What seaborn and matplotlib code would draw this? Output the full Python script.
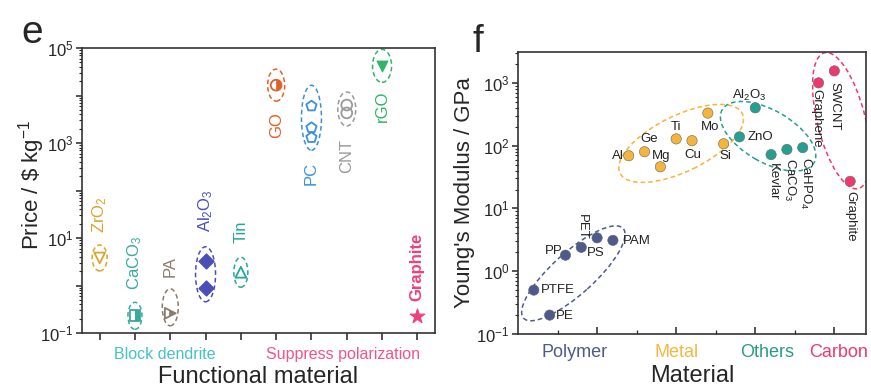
import numpy as np
import pandas as pd
import matplotlib
matplotlib.use("Agg")
import matplotlib.pyplot as plt
import matplotlib.transforms as mtransforms
from matplotlib.patches import Ellipse
from matplotlib.markers import MarkerStyle
from matplotlib import ticker
import seaborn as sns

# ---------------- Panel e data ----------------
e_materials = ["ZrO$_2$", "CaCO$_3$", "PA", "Al$_2$O$_3$", "Tin",
               "GO", "PC", "CNT", "rGO", "Graphite"]
e_positions = [1, 2, 3, 4, 5, 6, 7, 8, 9, 10]
e_prices = [[3.8], [0.23], [0.26], [3.3, 0.9], [1.9],
            [16500], [6000, 2100, 1300], [6300, 4300], [42000], [0.23]]
e_groups = ["Block dendrite", "Suppress polarization"]
e_group_positions = [2.85, 7.9]

# ---------------- Panel f data ----------------
f_materials = ["PTFE", "PE", "PP", "PS", "PET", "PAM",
               "Al", "Ge", "Mg", "Ti", "Cu", "Mo", "Si",
               "ZnO", "Al$_2$O$_3$", "Kevlar", "CaCO$_3$", "CaHPO$_4$",
               "Graphene", "SWCNT", "Graphite"]
f_positions = [0.2, 0.4, 0.6, 0.8, 1.0, 1.2,
               1.4, 1.6, 1.8, 2.0, 2.2, 2.4, 2.6,
               2.8, 3.0, 3.2, 3.4, 3.6,
               3.8, 4.0, 4.2]
f_modulus = [0.5, 0.2, 1.8, 2.4, 3.4, 3.1,
             69, 80, 46, 128, 120, 330, 107,
             138, 400, 72, 87, 93,
             1000, 1550, 27]
f_class = ["Polymer"] * 6 + ["Metal"] * 7 + ["Others"] * 5 + ["Carbon"] * 3
f_classes = ["Polymer", "Metal", "Others", "Carbon"]
f_class_positions = [0.72, 2.0, 3.15, 4.05]

# ---------------- styles ----------------
e_colors = ["#d9a52c", "#3aa99f", "#8c7b6e", "#4a4fb5", "#22a99b",
            "#e0612b", "#3b8fe0", "#9a9a9a", "#30b465", "#f0407c"]
e_markers = ["v", "s", ">", "D", "^", "o", "p", "o", "v", "*"]
e_fill = ["none", "half", "half", "full", "none", "half", "none", "none", "full", "full"]
e_ell = [(15, 26), (14, 27), (16, 37), (20, 55), (14, 30),
         (17, 32), (20, 65), (18, 34), (19, 33), None]
e_ell_dy = [0, 0, -6, 0, 0, 0, -6, 0, 0, 0]
e_label_dy = [-43, -53, -47, -50, -41, 40, 36, 43, 40, -49]
e_group_colors = ["#45c2c2", "#f0548c"]

f_class_colors = {"Polymer": "#4d5b8c", "Metal": "#f5b43a",
                  "Others": "#25a090", "Carbon": "#ec3a6e"}
f_text_colors = ["#4d5b8c", "#f5b840", "#2a9a88", "#ec3a6e"]
# label offsets in pixels (dx, dy image-down), rotation, ha, va
f_label_style = [
    (7, 0, 0, "left", "center"), (6, 1, 0, "left", "center"),
    (-3, -4, 0, "right", "center"), (6, 6, 0, "left", "center"),
    (-15, -11, -90, "center", "center"), (10, 1, 0, "left", "center"),
    (-5, 0, 0, "right", "center"), (5, -13, 0, "center", "center"),
    (1, -11, 0, "center", "center"), (0, -12, 0, "center", "center"),
    (1, 14, 0, "center", "center"), (2, 14, 0, "center", "center"),
    (2, 12, 0, "center", "center"), (8, 0, 0, "left", "center"),
    (-6, -12, 0, "center", "center"), (2, 8, -90, "center", "top"),
    (3, 9, -90, "center", "top"), (3, 9, -90, "center", "top"),
    (-2, 6, -90, "center", "top"), (0, 11, -90, "center", "top"),
    (0, 10, -90, "center", "top"),
]
# ellipse per class: width px, height px, angle, dx, dy (image px)
f_ell = {"Polymer": (134, 42, 42, 0, 9), "Metal": (136, 56, 26, 5, -1),
         "Others": (106, 52, -30, -3, -3), "Carbon": (140, 48, 104, 7, 9)}

sns.set_style("ticks")
plt.rcParams["font.family"] = ["Liberation Sans", "DejaVu Sans"]
plt.rcParams["mathtext.default"] = "regular"
plt.rcParams["axes.edgecolor"] = "#333333"
plt.rcParams["axes.linewidth"] = 1.2

DPI = 100
fig = plt.figure(figsize=(8.71, 3.90), dpi=DPI)
ax_e = fig.add_axes([82 / 871, (390 - 333) / 390, 353 / 871, 285 / 390])
ax_f = fig.add_axes([518 / 871, (390 - 334) / 390, 348 / 871, 282 / 390])


def dashed_ellipse(ax, x, y, w, h, angle, color, dx=0, dy=0):
    trans = fig.dpi_scale_trans + mtransforms.ScaledTranslation(x, y, ax.transData) \
        + mtransforms.Affine2D().translate(dx * fig.dpi / DPI, -dy * fig.dpi / DPI)
    ell = Ellipse((0, 0), w / DPI, h / DPI, angle=angle, transform=trans,
                  fill=False, edgecolor=color, linewidth=1.1, linestyle=(0, (3, 2)))
    ax.add_patch(ell)


# ================= Panel e =================
ax_e.set_yscale("log")
ax_e.set_xlim(0.5, 10.5)
ax_e.set_ylim(0.1, 1e5)
for i, (name, pos, vals) in enumerate(zip(e_materials, e_positions, e_prices)):
    df = pd.DataFrame({"x": [pos] * len(vals), "y": vals})
    c = e_colors[i]
    m = e_markers[i]
    size = 120 if m == "*" else 60
    if e_fill[i] == "none":
        sns.scatterplot(data=df, x="x", y="y", ax=ax_e, marker=m, s=size,
                        color=c, facecolors="none", edgecolor=c, linewidth=1.3, zorder=3)
    elif e_fill[i] == "half":
        sns.scatterplot(data=df, x="x", y="y", ax=ax_e, marker=MarkerStyle(m, fillstyle="right"),
                        s=size, color=c, edgecolor="none", linewidth=0, zorder=3)
        sns.scatterplot(data=df, x="x", y="y", ax=ax_e, marker=m, s=size,
                        color=c, facecolors="none", edgecolor=c, linewidth=1.3, zorder=4)
    else:
        sns.scatterplot(data=df, x="x", y="y", ax=ax_e, marker=m, s=size,
                        color=c, edgecolor=c, linewidth=0.8, zorder=3)
    if e_ell[i] is not None:
        ymid = 10 ** np.mean(np.log10(vals))
        dashed_ellipse(ax_e, pos, ymid, e_ell[i][0], e_ell[i][1], 0, c, 0, e_ell_dy[i])
    dy = e_label_dy[i]
    ref = max(vals) if dy < 0 else min(vals)
    ax_e.annotate(name, xy=(pos, ref), xytext=(0, -dy), textcoords="offset pixels",
                  rotation=90, ha="center", va="center", color=c, fontsize=12,
                  fontweight="bold" if name == "Graphite" else "normal")

ax_e.set_xticks(e_positions)
ax_e.set_xticklabels([])
ax_e.tick_params(axis="x", which="major", direction="out", length=5, width=1.2, color="#333333")
ax_e.yaxis.set_major_locator(ticker.LogLocator(base=10, numticks=20))
ax_e.yaxis.set_minor_locator(ticker.LogLocator(base=10, subs=np.arange(2, 10), numticks=100))
ax_e.yaxis.set_major_formatter(ticker.FuncFormatter(
    lambda v, p: r"$10^{%d}$" % round(np.log10(v)) if round(np.log10(v)) % 2 != 0 else ""))
ax_e.yaxis.set_minor_formatter(ticker.NullFormatter())
ax_e.tick_params(axis="y", which="major", direction="out", length=4, width=1.1, labelsize=12, pad=2)
ax_e.tick_params(axis="y", which="minor", direction="out", length=2, width=0.8)
ax_e.set_xlabel("Functional material", fontsize=17)
ax_e.xaxis.set_label_coords(0.5, -0.115)
ax_e.set_ylabel("Price / \\$ kg$^{-1}$", fontsize=16)
ax_e.yaxis.set_label_coords(-0.10, 0.52)
for g, gp, gc in zip(e_groups, e_group_positions, e_group_colors):
    ax_e.text(gp, -0.074, g, transform=ax_e.get_xaxis_transform(), ha="center", va="center",
              color=gc, fontsize=11.5)
fig.text(32 / 871, 1 - 43 / 390, "e", fontsize=28, ha="center", va="baseline")

# ================= Panel f =================
ax_f.set_yscale("log")
ax_f.set_xlim(0, 4.4)
ax_f.set_ylim(0.1, 3100)
df_f = pd.DataFrame({"x": f_positions, "y": f_modulus, "cls": f_class, "name": f_materials})
sns.scatterplot(data=df_f, x="x", y="y", hue="cls", palette=f_class_colors, hue_order=f_classes,
                s=55, edgecolor="#666666", linewidth=0.4, legend=False, ax=ax_f, zorder=3)
for i, row in df_f.iterrows():
    dx, dy, rot, ha, va = f_label_style[i]
    ax_f.annotate(row["name"], xy=(row["x"], row["y"]), xytext=(dx, -dy),
                  textcoords="offset pixels", rotation=rot, ha=ha, va=va,
                  fontsize=9.5, color="#222222")
for cls in f_classes:
    sub = df_f[df_f["cls"] == cls]
    w, h, ang, dx, dy = f_ell[cls]
    dashed_ellipse(ax_f, sub["x"].mean(), 10 ** np.log10(sub["y"]).mean(), w, h, ang,
                   f_class_colors[cls], dx, dy)

ax_f.set_xticks([1, 2, 3, 4])
ax_f.set_xticks([0.5, 1.5, 2.5, 3.5], minor=True)
ax_f.set_xticklabels([])
ax_f.tick_params(axis="x", which="major", direction="in", length=5, width=1.1)
ax_f.tick_params(axis="x", which="minor", direction="in", length=3, width=0.9)
ax_f.yaxis.set_major_locator(ticker.LogLocator(base=10, numticks=20))
ax_f.yaxis.set_minor_locator(ticker.LogLocator(base=10, subs=np.arange(2, 10), numticks=100))
ax_f.yaxis.set_major_formatter(ticker.LogFormatterSciNotation())
ax_f.yaxis.set_minor_formatter(ticker.NullFormatter())
ax_f.tick_params(axis="y", which="major", direction="out", length=4, width=1.1, labelsize=12, pad=2)
ax_f.tick_params(axis="y", which="minor", direction="out", length=2, width=0.8)
ax_f.set_xlabel("Material", fontsize=17)
ax_f.xaxis.set_label_coords(0.5, -0.11)
ax_f.set_ylabel("Young's Modulus / GPa", fontsize=16)
ax_f.yaxis.set_label_coords(-0.125, 0.5)
for cname, cp, cc in zip(f_classes, f_class_positions, f_text_colors):
    ax_f.text(cp, -0.065, cname, transform=ax_f.get_xaxis_transform(), ha="center", va="center",
              color=cc, fontsize=13)
fig.text(478 / 871, 1 - 52 / 390, "f", fontsize=28, ha="center", va="baseline")

fig.savefig("out.png", dpi=DPI, facecolor="white")
